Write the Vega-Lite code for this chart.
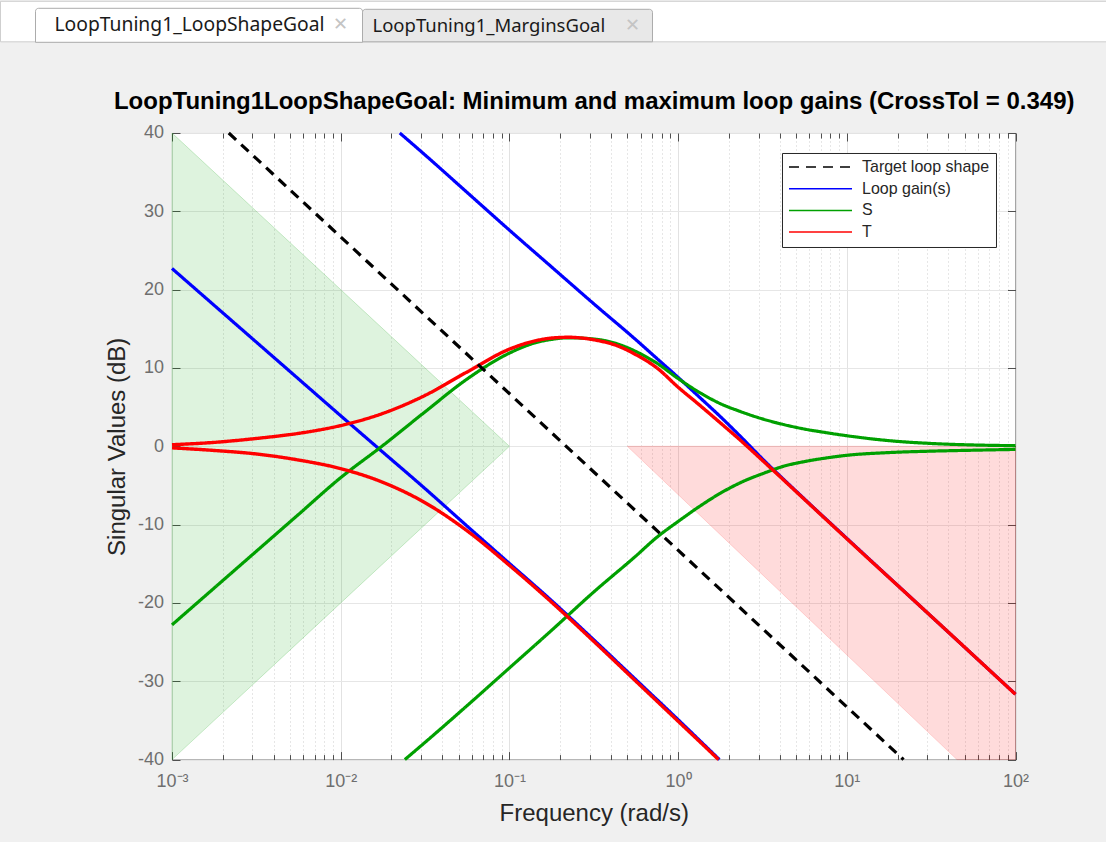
{
  "$schema": "https://vega.github.io/schema/vega-lite/v6.json",
  "width": 843.5,
  "height": 626.6,
  "autosize": {"type": "pad"},
  "padding": {"left": 0, "right": 0, "top": 0, "bottom": 16},
  "background": "#f0f0f0",
  "config": {
    "view": {"fill": "#ffffff", "stroke": "#4d4d4d", "strokeWidth": 1},
    "font": "Liberation Sans"
  },
  "datasets": {
    "regions": [
      {"region": "low", "w": 0.001, "hi": 40, "lo": -40},
      {"region": "low", "w": 0.1, "hi": 0, "lo": 0},
      {"region": "high", "w": 0.5, "hi": 0, "lo": 0},
      {"region": "high", "w": 45, "hi": 0, "lo": -40},
      {"region": "high", "w": 100, "hi": 0, "lo": -40}
    ],
    "tabs": [
      {"tab": "LoopTuning1_LoopShapeGoal", "state": "active"},
      {"tab": "LoopTuning1_MarginsGoal", "state": "inactive"}
    ],
    "curves": [
      {"series": "Loop gain(s)", "branch": "max", "w": 0.02239, "db": 40.0},
      {"series": "Loop gain(s)", "branch": "max", "w": 0.03162, "db": 37.2},
      {"series": "Loop gain(s)", "branch": "max", "w": 0.05623, "db": 32.4},
      {"series": "Loop gain(s)", "branch": "max", "w": 0.1, "db": 27.6},
      {"series": "Loop gain(s)", "branch": "max", "w": 0.1778, "db": 22.9},
      {"series": "Loop gain(s)", "branch": "max", "w": 0.3162, "db": 18.2},
      {"series": "Loop gain(s)", "branch": "max", "w": 0.5623, "db": 13.6},
      {"series": "Loop gain(s)", "branch": "max", "w": 0.7499, "db": 11.2},
      {"series": "Loop gain(s)", "branch": "max", "w": 1, "db": 8.8},
      {"series": "Loop gain(s)", "branch": "max", "w": 1.334, "db": 6.3},
      {"series": "Loop gain(s)", "branch": "max", "w": 1.778, "db": 3.8},
      {"series": "Loop gain(s)", "branch": "max", "w": 2.333, "db": 1.3},
      {"series": "Loop gain(s)", "branch": "max", "w": 3.162, "db": -1.6},
      {"series": "Loop gain(s)", "branch": "max", "w": 5.623, "db": -6.75},
      {"series": "Loop gain(s)", "branch": "max", "w": 10, "db": -11.75},
      {"series": "Loop gain(s)", "branch": "max", "w": 31.62, "db": -21.7},
      {"series": "Loop gain(s)", "branch": "max", "w": 100, "db": -31.65},
      {"series": "Loop gain(s)", "branch": "min", "w": 0.001, "db": 22.7},
      {"series": "Loop gain(s)", "branch": "min", "w": 0.001778, "db": 18.0},
      {"series": "Loop gain(s)", "branch": "min", "w": 0.003162, "db": 13.3},
      {"series": "Loop gain(s)", "branch": "min", "w": 0.005623, "db": 8.6},
      {"series": "Loop gain(s)", "branch": "min", "w": 0.01, "db": 3.9},
      {"series": "Loop gain(s)", "branch": "min", "w": 0.01778, "db": -0.75},
      {"series": "Loop gain(s)", "branch": "min", "w": 0.03162, "db": -5.4},
      {"series": "Loop gain(s)", "branch": "min", "w": 0.05623, "db": -10.2},
      {"series": "Loop gain(s)", "branch": "min", "w": 0.1, "db": -14.95},
      {"series": "Loop gain(s)", "branch": "min", "w": 0.1778, "db": -19.7},
      {"series": "Loop gain(s)", "branch": "min", "w": 0.3162, "db": -24.7},
      {"series": "Loop gain(s)", "branch": "min", "w": 0.5623, "db": -29.8},
      {"series": "Loop gain(s)", "branch": "min", "w": 1, "db": -34.9},
      {"series": "Loop gain(s)", "branch": "min", "w": 1.758, "db": -40.0},
      {"series": "S", "branch": "max", "w": 0.001, "db": -22.8},
      {"series": "S", "branch": "max", "w": 0.001778, "db": -18.1},
      {"series": "S", "branch": "max", "w": 0.003162, "db": -13.4},
      {"series": "S", "branch": "max", "w": 0.005623, "db": -8.7},
      {"series": "S", "branch": "max", "w": 0.01, "db": -4.0},
      {"series": "S", "branch": "max", "w": 0.01778, "db": 0.1},
      {"series": "S", "branch": "max", "w": 0.03162, "db": 4.4},
      {"series": "S", "branch": "max", "w": 0.05623, "db": 8.6},
      {"series": "S", "branch": "max", "w": 0.1, "db": 11.9},
      {"series": "S", "branch": "max", "w": 0.1413, "db": 13.2},
      {"series": "S", "branch": "max", "w": 0.1778, "db": 13.65},
      {"series": "S", "branch": "max", "w": 0.2239, "db": 13.85},
      {"series": "S", "branch": "max", "w": 0.3162, "db": 13.7},
      {"series": "S", "branch": "max", "w": 0.4467, "db": 13.0},
      {"series": "S", "branch": "max", "w": 0.5623, "db": 12.1},
      {"series": "S", "branch": "max", "w": 0.7499, "db": 10.6},
      {"series": "S", "branch": "max", "w": 1, "db": 8.65},
      {"series": "S", "branch": "max", "w": 1.334, "db": 6.9},
      {"series": "S", "branch": "max", "w": 1.778, "db": 5.45},
      {"series": "S", "branch": "max", "w": 2.333, "db": 4.45},
      {"series": "S", "branch": "max", "w": 3.162, "db": 3.5},
      {"series": "S", "branch": "max", "w": 4.217, "db": 2.78},
      {"series": "S", "branch": "max", "w": 5.623, "db": 2.2},
      {"series": "S", "branch": "max", "w": 7.499, "db": 1.75},
      {"series": "S", "branch": "max", "w": 10, "db": 1.35},
      {"series": "S", "branch": "max", "w": 17.78, "db": 0.72},
      {"series": "S", "branch": "max", "w": 31.62, "db": 0.36},
      {"series": "S", "branch": "max", "w": 56.23, "db": 0.17},
      {"series": "S", "branch": "max", "w": 100, "db": 0.08},
      {"series": "S", "branch": "min", "w": 0.02399, "db": -40.0},
      {"series": "S", "branch": "min", "w": 0.03162, "db": -37.8},
      {"series": "S", "branch": "min", "w": 0.05623, "db": -33.1},
      {"series": "S", "branch": "min", "w": 0.1, "db": -28.3},
      {"series": "S", "branch": "min", "w": 0.1778, "db": -23.5},
      {"series": "S", "branch": "min", "w": 0.3162, "db": -18.6},
      {"series": "S", "branch": "min", "w": 0.5623, "db": -14.0},
      {"series": "S", "branch": "min", "w": 0.7499, "db": -11.6},
      {"series": "S", "branch": "min", "w": 1, "db": -9.6},
      {"series": "S", "branch": "min", "w": 1.334, "db": -7.7},
      {"series": "S", "branch": "min", "w": 1.778, "db": -6.0},
      {"series": "S", "branch": "min", "w": 2.438, "db": -4.47},
      {"series": "S", "branch": "min", "w": 3.162, "db": -3.5},
      {"series": "S", "branch": "min", "w": 4.217, "db": -2.55},
      {"series": "S", "branch": "min", "w": 5.623, "db": -1.95},
      {"series": "S", "branch": "min", "w": 7.499, "db": -1.5},
      {"series": "S", "branch": "min", "w": 10, "db": -1.15},
      {"series": "S", "branch": "min", "w": 17.78, "db": -0.8},
      {"series": "S", "branch": "min", "w": 31.62, "db": -0.62},
      {"series": "S", "branch": "min", "w": 56.23, "db": -0.5},
      {"series": "S", "branch": "min", "w": 100, "db": -0.4},
      {"series": "T", "branch": "max", "w": 0.001, "db": 0.2},
      {"series": "T", "branch": "max", "w": 0.001778, "db": 0.5},
      {"series": "T", "branch": "max", "w": 0.003162, "db": 1.0},
      {"series": "T", "branch": "max", "w": 0.005623, "db": 1.65},
      {"series": "T", "branch": "max", "w": 0.01, "db": 2.65},
      {"series": "T", "branch": "max", "w": 0.01778, "db": 4.2},
      {"series": "T", "branch": "max", "w": 0.03162, "db": 6.5},
      {"series": "T", "branch": "max", "w": 0.05623, "db": 9.5},
      {"series": "T", "branch": "max", "w": 0.1, "db": 12.4},
      {"series": "T", "branch": "max", "w": 0.1413, "db": 13.45},
      {"series": "T", "branch": "max", "w": 0.1778, "db": 13.82},
      {"series": "T", "branch": "max", "w": 0.2239, "db": 13.92},
      {"series": "T", "branch": "max", "w": 0.3162, "db": 13.6},
      {"series": "T", "branch": "max", "w": 0.4467, "db": 12.75},
      {"series": "T", "branch": "max", "w": 0.5623, "db": 11.7},
      {"series": "T", "branch": "max", "w": 0.7499, "db": 10.0},
      {"series": "T", "branch": "max", "w": 1, "db": 7.55},
      {"series": "T", "branch": "max", "w": 1.334, "db": 5.3},
      {"series": "T", "branch": "max", "w": 1.778, "db": 3.0},
      {"series": "T", "branch": "max", "w": 2.333, "db": 0.8},
      {"series": "T", "branch": "max", "w": 3.162, "db": -1.8},
      {"series": "T", "branch": "max", "w": 5.623, "db": -6.8},
      {"series": "T", "branch": "max", "w": 10, "db": -11.8},
      {"series": "T", "branch": "max", "w": 31.62, "db": -21.7},
      {"series": "T", "branch": "max", "w": 100, "db": -31.67},
      {"series": "T", "branch": "min", "w": 0.001, "db": -0.2},
      {"series": "T", "branch": "min", "w": 0.001778, "db": -0.53},
      {"series": "T", "branch": "min", "w": 0.003162, "db": -0.98},
      {"series": "T", "branch": "min", "w": 0.005623, "db": -1.75},
      {"series": "T", "branch": "min", "w": 0.01, "db": -2.85},
      {"series": "T", "branch": "min", "w": 0.01778, "db": -4.6},
      {"series": "T", "branch": "min", "w": 0.03162, "db": -7.2},
      {"series": "T", "branch": "min", "w": 0.05623, "db": -10.8},
      {"series": "T", "branch": "min", "w": 0.1, "db": -15.2},
      {"series": "T", "branch": "min", "w": 0.1778, "db": -19.9},
      {"series": "T", "branch": "min", "w": 0.3162, "db": -24.9},
      {"series": "T", "branch": "min", "w": 0.5623, "db": -30.0},
      {"series": "T", "branch": "min", "w": 1, "db": -35.1},
      {"series": "T", "branch": "min", "w": 1.738, "db": -40.0},
      {"series": "Target loop shape", "branch": "target", "w": 0.00217, "db": 40},
      {"series": "Target loop shape", "branch": "target", "w": 21.7, "db": -40}
    ]
  },
  "layer": [
    {
      "resolve": {"axis": {"x": "independent", "y": "independent"}},
      "layer": [
        {
          "data": {"name": "regions"},
          "transform": [{"filter": "datum.region === 'low'"}],
          "mark": {"type": "area", "fill": "#00a000", "fillOpacity": 0.13, "stroke": "#00a000", "strokeOpacity": 0.2, "strokeWidth": 1},
          "encoding": {
            "x": {
              "field": "w", "type": "quantitative",
              "scale": {"type": "log", "domain": [0.001, 100], "nice": false},
              "axis": {
                "orient": "bottom",
                "values": [0.001,0.002,0.003,0.004,0.005,0.006,0.007,0.008,0.009,0.01,0.02,0.03,0.04,0.05,0.06,0.07,0.08,0.09,0.1,0.2,0.3,0.4,0.5,0.6,0.7,0.8,0.9,1,2,3,4,5,6,7,8,9,10,20,30,40,50,60,70,80,90,100],
                "labelExpr": "datum.value == 0.001 ? '10⁻³' : datum.value == 0.01 ? '10⁻²' : datum.value == 0.1 ? '10⁻¹' : datum.value == 1 ? '10⁰' : datum.value == 10 ? '10¹' : datum.value == 100 ? '10²' : ''",
                "labelOverlap": false, "labelFlush": false, "labelBound": false,
                "labelFont": "Liberation Sans", "labelFontSize": 18, "labelColor": "#6e6e6e", "labelPadding": 21,
                "domain": false,
                "tickColor": "#4d4d4d", "tickWidth": 1,
                "tickSize": {"condition": {"test": "indexof([0.001,0.01,0.1,1,10,100], datum.value) >= 0", "value": -8}, "value": -5},
                "grid": true,
                "gridColor": {"condition": {"test": "indexof([0.001,0.01,0.1,1,10,100], datum.value) >= 0", "value": "#e2e2e2"}, "value": "#cdcdcd"},
                "gridDash": {"condition": {"test": "indexof([0.001,0.01,0.1,1,10,100], datum.value) >= 0", "value": []}, "value": [1, 3]},
                "title": "Frequency (rad/s)",
                "titleFont": "Liberation Sans", "titleFontSize": 24, "titleFontWeight": "normal", "titleColor": "#262626", "titlePadding": 8
              }
            },
            "y": {
              "field": "hi", "type": "quantitative",
              "scale": {"domain": [-40, 40], "nice": false, "zero": false},
              "axis": {
                "orient": "left",
                "values": [-40,-30,-20,-10,0,10,20,30,40],
                "labelExpr": "'' + datum.value",
                "labelFlush": false,
                "labelFont": "Liberation Sans", "labelFontSize": 18, "labelColor": "#6e6e6e", "labelPadding": 16.5,
                "domain": false,
                "tickColor": "#4d4d4d", "tickSize": -8,
                "grid": true, "gridColor": "#e6e6e6",
                "title": "Singular Values (dB)",
                "titleFont": "Liberation Sans", "titleFontSize": 24, "titleFontWeight": "normal", "titleColor": "#262626", "titlePadding": 8
              }
            },
            "y2": {"field": "lo"}
          }
        },
        {
          "data": {"name": "regions"},
          "transform": [{"filter": "datum.region === 'high'"}],
          "mark": {"type": "area", "fill": "#ff0000", "fillOpacity": 0.14, "stroke": "#ff0000", "strokeOpacity": 0.15, "strokeWidth": 1},
          "encoding": {
            "x": {
              "field": "w", "type": "quantitative",
              "axis": {
                "orient": "top",
                "values": [0.001,0.002,0.003,0.004,0.005,0.006,0.007,0.008,0.009,0.01,0.02,0.03,0.04,0.05,0.06,0.07,0.08,0.09,0.1,0.2,0.3,0.4,0.5,0.6,0.7,0.8,0.9,1,2,3,4,5,6,7,8,9,10,20,30,40,50,60,70,80,90,100],
                "labels": false, "grid": false, "domain": false,
                "tickColor": "#4d4d4d",
                "tickSize": {"condition": {"test": "indexof([0.001,0.01,0.1,1,10,100], datum.value) >= 0", "value": -8}, "value": -5},
                "title": "LoopTuning1LoopShapeGoal: Minimum and maximum loop gains (CrossTol = 0.349)",
                "titleFont": "Liberation Sans", "titleFontSize": 24, "titleFontWeight": "bold", "titleColor": "#000000", "titlePadding": 19
              }
            },
            "y": {
              "field": "hi", "type": "quantitative",
              "axis": {
                "orient": "right",
                "values": [-40,-30,-20,-10,0,10,20,30,40],
                "labels": false, "grid": false, "domain": false, "title": null,
                "tickColor": "#4d4d4d", "tickSize": -8
              }
            },
            "y2": {"field": "lo"}
          }
        },
        {
          "data": {"name": "curves"},
          "transform": [{"filter": "datum.series === 'Loop gain(s)'"}],
          "mark": {"type": "line", "strokeWidth": 3.2, "interpolate": "monotone"},
          "encoding": {
            "x": {"field": "w", "type": "quantitative", "axis": null},
            "y": {"field": "db", "type": "quantitative", "axis": null},
            "color": {
              "field": "series", "type": "nominal",
              "scale": {"domain": ["Target loop shape", "Loop gain(s)", "S", "T"], "range": ["#000000", "#0000ff", "#00a000", "#ff0000"]},
              "legend": {"title": null, "orient": "top-right", "offset": 20, "fillColor": "#ffffff", "strokeColor": "#262626", "padding": 6, "labelFont": "Liberation Sans", "labelFontSize": 16, "labelColor": "#262626", "symbolType": "stroke", "symbolSize": 3969, "symbolStrokeWidth": 1.5, "clipHeight": 16, "rowPadding": 5.7, "labelOffset": 9}
            },
            "strokeDash": {
              "field": "series", "type": "nominal",
              "scale": {"domain": ["Target loop shape", "Loop gain(s)", "S", "T"], "range": [[10, 7], [1, 0], [1, 0], [1, 0]]},
              "legend": {"title": null, "orient": "top-right", "offset": 20, "fillColor": "#ffffff", "strokeColor": "#262626", "padding": 6, "labelFont": "Liberation Sans", "labelFontSize": 16, "labelColor": "#262626", "symbolType": "stroke", "symbolSize": 3969, "symbolStrokeWidth": 1.5, "clipHeight": 16, "rowPadding": 5.7, "labelOffset": 9}
            },
            "detail": {"field": "branch"}
          }
        },
        {
          "data": {"name": "curves"},
          "transform": [{"filter": "datum.series === 'S'"}],
          "mark": {"type": "line", "strokeWidth": 3.2, "interpolate": "monotone"},
          "encoding": {
            "x": {"field": "w", "type": "quantitative", "axis": null},
            "y": {"field": "db", "type": "quantitative", "axis": null},
            "color": {"field": "series", "type": "nominal"},
            "strokeDash": {"field": "series", "type": "nominal"},
            "detail": {"field": "branch"}
          }
        },
        {
          "data": {"name": "curves"},
          "transform": [{"filter": "datum.series === 'T'"}],
          "mark": {"type": "line", "strokeWidth": 3.4, "interpolate": "monotone"},
          "encoding": {
            "x": {"field": "w", "type": "quantitative", "axis": null},
            "y": {"field": "db", "type": "quantitative", "axis": null},
            "color": {"field": "series", "type": "nominal"},
            "strokeDash": {"field": "series", "type": "nominal"},
            "detail": {"field": "branch"}
          }
        },
        {
          "data": {"name": "curves"},
          "transform": [{"filter": "datum.series === 'Target loop shape'"}],
          "mark": {"type": "line", "strokeWidth": 3.2},
          "encoding": {
            "x": {"field": "w", "type": "quantitative", "axis": null},
            "y": {"field": "db", "type": "quantitative", "axis": null},
            "color": {"field": "series", "type": "nominal"},
            "strokeDash": {"field": "series", "type": "nominal"},
            "detail": {"field": "branch"}
          }
        }
      ]
    },
    {
      "data": {"name": "tabs"},
      "resolve": {"scale": {"x": "independent", "y": "independent"}},
      "layer": [
        {
          "transform": [{"filter": "datum.state === 'active'"}],
          "mark": {"type": "rect", "fill": "#ffffff", "stroke": "#cfcfcf", "strokeWidth": 1},
          "encoding": {
            "x": {"datum": "strip", "type": "nominal", "scale": {"type": "band", "domain": ["strip"], "range": [-171.5, 934.5], "paddingInner": 0, "paddingOuter": 0}, "axis": null},
            "y": {"datum": "strip", "type": "nominal", "scale": {"type": "band", "domain": ["strip"], "range": [-131.7, -91.2], "paddingInner": 0, "paddingOuter": 0}, "axis": null}
          }
        },
        {
          "transform": [{"filter": "datum.state === 'active'"}],
          "layer": [
            {
              "mark": {"type": "rect", "fill": "#ffffff", "stroke": "#acacac", "strokeWidth": 1, "cornerRadiusTopLeft": 3, "cornerRadiusTopRight": 3},
              "encoding": {
                "x": {"field": "tab", "type": "nominal", "scale": {"type": "band", "range": [-136.5, 190.5], "paddingInner": 0, "paddingOuter": 0}, "axis": null},
                "y": {"datum": "tabs", "type": "nominal", "scale": {"type": "band", "domain": ["tabs"], "range": [-124.7, -90.7], "paddingInner": 0, "paddingOuter": 0}, "axis": null}
              }
            },
            {
              "mark": {"type": "text", "align": "left", "baseline": "middle", "dx": 19, "font": "Noto Sans", "fontSize": 19.3, "color": "#1a1a1a"},
              "encoding": {
                "x": {"field": "tab", "type": "nominal", "bandPosition": 0, "axis": null},
                "y": {"datum": "tabs", "type": "nominal", "axis": null},
                "text": {"field": "tab"}
              }
            },
            {
              "mark": {"type": "text", "align": "center", "baseline": "middle", "dx": -22, "font": "DejaVu Sans", "fontSize": 18, "fontWeight": "bold", "color": "#c4c4c4"},
              "encoding": {
                "x": {"field": "tab", "type": "nominal", "bandPosition": 1, "axis": null},
                "y": {"datum": "tabs", "type": "nominal", "axis": null},
                "text": {"value": "✕"}
              }
            }
          ]
        },
        {
          "transform": [{"filter": "datum.state === 'inactive'"}],
          "layer": [
            {
              "mark": {"type": "rect", "fill": "#e8e8e8", "stroke": "#acacac", "strokeWidth": 1, "cornerRadiusTopLeft": 3, "cornerRadiusTopRight": 3},
              "encoding": {
                "x": {"field": "tab", "type": "nominal", "scale": {"type": "band", "range": [190.5, 480.5], "paddingInner": 0, "paddingOuter": 0}, "axis": null},
                "y": {"datum": "tabs", "type": "nominal", "scale": {"type": "band", "domain": ["tabs"], "range": [-123.7, -91.2], "paddingInner": 0, "paddingOuter": 0}, "axis": null}
              }
            },
            {
              "mark": {"type": "text", "align": "left", "baseline": "middle", "dx": 10, "font": "Noto Sans", "fontSize": 18.5, "color": "#1a1a1a"},
              "encoding": {
                "x": {"field": "tab", "type": "nominal", "bandPosition": 0, "axis": null},
                "y": {"datum": "tabs", "type": "nominal", "axis": null},
                "text": {"field": "tab"}
              }
            },
            {
              "mark": {"type": "text", "align": "center", "baseline": "middle", "dx": -20, "font": "DejaVu Sans", "fontSize": 18, "fontWeight": "bold", "color": "#c4c4c4"},
              "encoding": {
                "x": {"field": "tab", "type": "nominal", "bandPosition": 1, "axis": null},
                "y": {"datum": "tabs", "type": "nominal", "axis": null},
                "text": {"value": "✕"}
              }
            }
          ]
        }
      ]
    }
  ],
  "resolve": {"scale": {"x": "independent", "y": "independent"}}
}
